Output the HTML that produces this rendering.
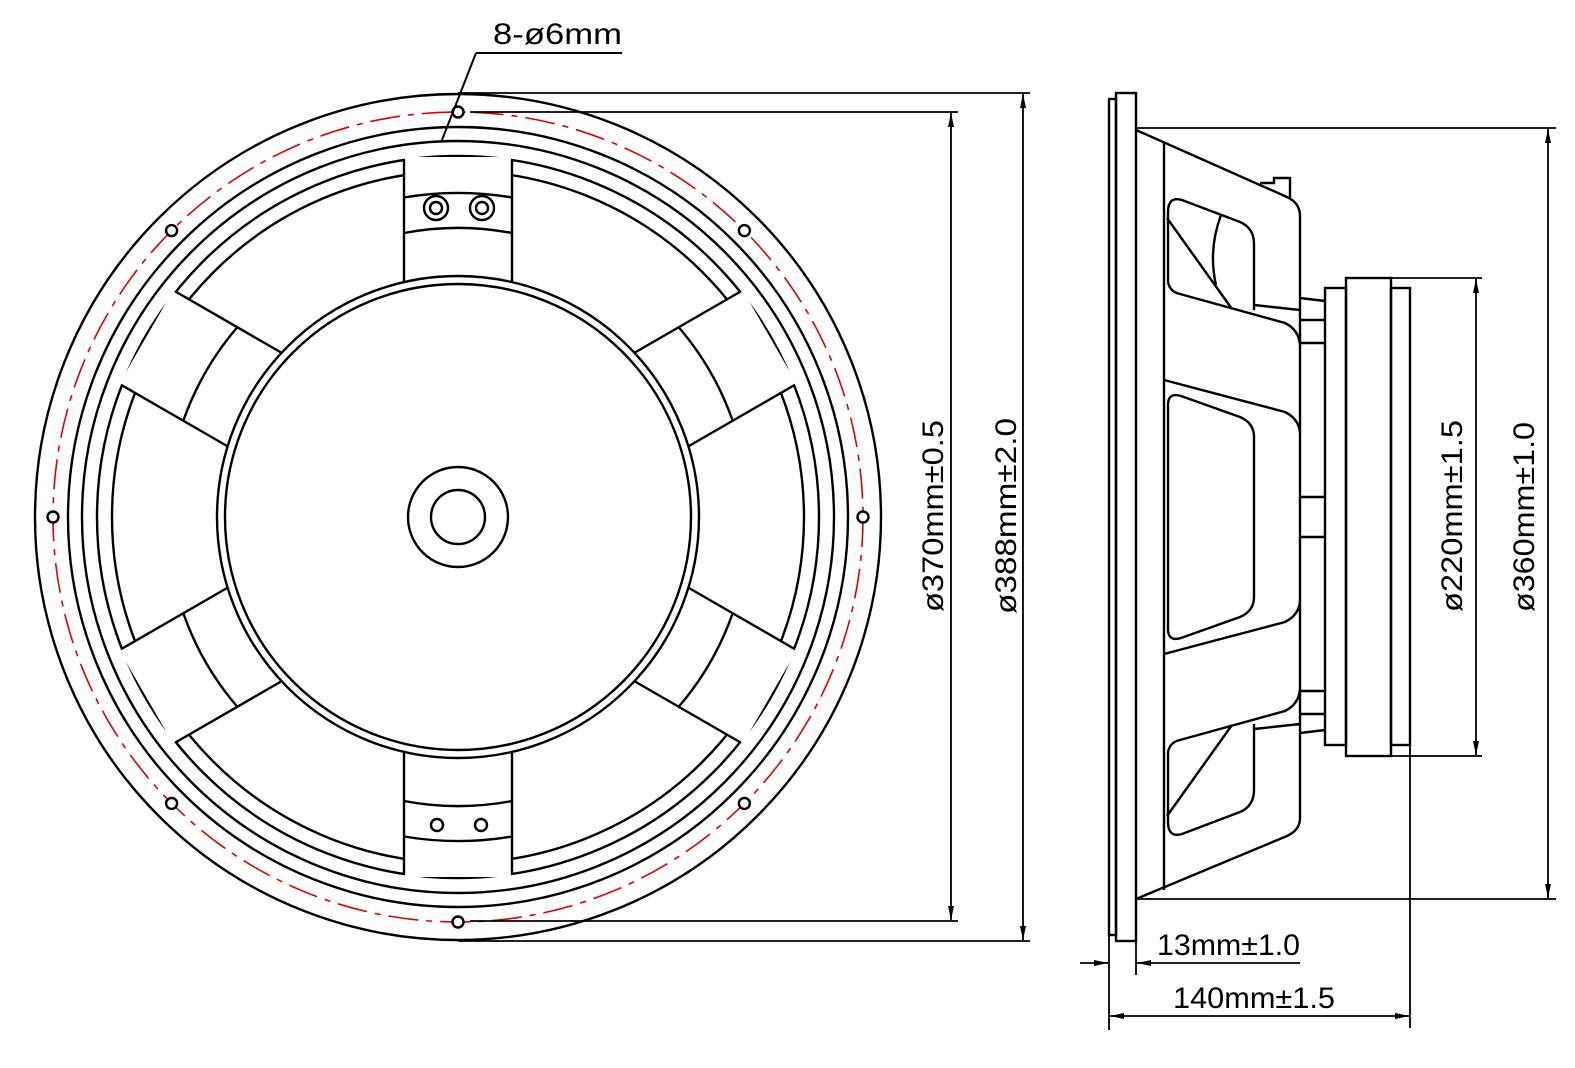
<!DOCTYPE html>
<html><head><meta charset="utf-8"><style>
html,body{margin:0;padding:0;background:#fff;}
svg{display:block;}
text{font-family:"Liberation Sans",sans-serif;font-size:30px;fill:#000;}
</style></head><body>
<svg width="1575" height="1068" viewBox="0 0 1575 1068" xmlns="http://www.w3.org/2000/svg">
<defs>
<marker id="ar" viewBox="0 0 14 6" refX="14" refY="3" markerWidth="14" markerHeight="6" markerUnits="userSpaceOnUse" orient="auto-start-reverse"><path d="M0,0 L14,3 L0,6 Z" fill="#000"/></marker>
<g id="sp" fill="none" stroke="#000" stroke-width="2.4">
<rect x="686" y="464" width="132" height="106" fill="#fff" stroke="none"/>
<line x1="693" y1="463" x2="815" y2="463"/>
<line x1="693" y1="571" x2="815" y2="571"/>
</g>
<g id="ac" fill="none" stroke="#000" stroke-width="2.4"><path d="M744,463 A291,291 0 0 1 744,571"/></g>
<g id="vc" fill="none" stroke="#000" stroke-width="2.4"><path d="M742,463 A289,289 0 0 1 742,571"/><path d="M777.5,463 A324,324 0 0 1 777.5,571"/></g>
</defs>
<g fill="none" stroke="#000" stroke-width="2.4">
<!-- FRONT VIEW -->
<circle cx="458" cy="517" r="423"/>
<circle cx="458" cy="517" r="405" stroke="#e00000" stroke-width="1.6" stroke-dasharray="30 8 6 8"/>
<circle cx="458" cy="517" r="390"/>
<circle cx="458" cy="517" r="376"/>
<circle cx="458" cy="517" r="361"/>
<circle cx="458" cy="517" r="346"/>
<use href="#sp" transform="rotate(-30 458 517)"/>
<use href="#sp" transform="rotate(30 458 517)"/>
<use href="#sp" transform="rotate(150 458 517)"/>
<use href="#sp" transform="rotate(210 458 517)"/>
<use href="#sp" transform="rotate(90 458 517)"/>
<use href="#sp" transform="rotate(-90 458 517)"/>
<use href="#ac" transform="rotate(-30 458 517)"/>
<use href="#ac" transform="rotate(30 458 517)"/>
<use href="#ac" transform="rotate(150 458 517)"/>
<use href="#ac" transform="rotate(210 458 517)"/>
<use href="#vc" transform="rotate(-90 458 517)"/>
<use href="#vc" transform="rotate(90 458 517)"/>
<!-- terminals -->
<circle cx="436" cy="208" r="12"/><circle cx="436" cy="208" r="6"/>
<circle cx="482" cy="208" r="12"/><circle cx="482" cy="208" r="6"/>
<circle cx="437" cy="825" r="6"/><circle cx="481" cy="825" r="6"/>
<!-- magnet -->
<circle cx="458" cy="517" r="241" fill="#fff"/>
<circle cx="458" cy="517" r="233"/>
<circle cx="458" cy="517" r="50"/>
<circle cx="458" cy="517" r="27"/>
<!-- holes -->
<g fill="#fff">
<circle cx="863" cy="517" r="5.5"/><circle cx="744.4" cy="803.4" r="5.5"/><circle cx="458" cy="922" r="5.5"/><circle cx="171.6" cy="803.4" r="5.5"/>
<circle cx="53" cy="517" r="5.5"/><circle cx="171.6" cy="230.6" r="5.5"/><circle cx="458" cy="112" r="5.5"/><circle cx="744.4" cy="230.6" r="5.5"/>
</g>
<!-- leader -->
<line x1="622" y1="53" x2="476" y2="53" stroke-width="2"/>
<line x1="476" y1="53" x2="442" y2="140" stroke-width="2"/>
<!-- front dims -->
<g stroke-width="1.8">
<line x1="458" y1="93" x2="1030" y2="93"/>
<line x1="470" y1="112" x2="958" y2="112"/>
<line x1="470" y1="921" x2="958" y2="921"/>
<line x1="458" y1="941" x2="1030" y2="941"/>
<line x1="951" y1="113" x2="951" y2="920" marker-start="url(#ar)" marker-end="url(#ar)"/>
<line x1="1023" y1="94" x2="1023" y2="940" marker-start="url(#ar)" marker-end="url(#ar)"/>
</g>

<!-- SIDE VIEW -->
<rect x="1109" y="99" width="7" height="836"/>
<rect x="1116" y="93" width="20" height="848"/>
<path d="M1136,130 L1287,197 Q1300,203 1300,216 L1300,818 Q1300,830 1287,836 L1136,899"/>
<line x1="1164" y1="142" x2="1164" y2="890"/>
<path d="M1260,183 L1274,183 L1274,178 L1290,178 L1290,199"/>
<path d="M1168,282 L1168,212 Q1168,196 1182,200 L1240,222 Q1254,228 1254,244 L1254,310"/>
<path d="M1168,282 Q1170,292 1180,294 L1285,323 Q1299,330 1300,345"/>
<line x1="1254" y1="305" x2="1300" y2="310"/>
<line x1="1167" y1="218" x2="1232" y2="309"/>
<path d="M1221,215 Q1208,250 1216,285"/>
<path d="M1164,380 L1285,412 Q1299,419 1300,433"/>
<path d="M1168,405 Q1168,392 1181,396 L1240,417 Q1254,423 1254,437 L1254,597 Q1254,611 1240,617 L1181,638 Q1168,642 1168,629 Z"/>
<path d="M1164,654 L1285,622 Q1299,615 1300,601"/>
<path d="M1168,752 L1168,822 Q1168,838 1182,834 L1240,812 Q1254,806 1254,790 L1254,724"/>
<path d="M1168,752 Q1170,742 1180,740 L1285,711 Q1299,704 1300,689"/>
<line x1="1254" y1="729" x2="1300" y2="724"/>
<line x1="1167" y1="816" x2="1232" y2="725"/>
<line x1="1300" y1="298" x2="1325" y2="301"/>
<line x1="1300" y1="320" x2="1325" y2="320"/>
<line x1="1300" y1="343" x2="1325" y2="343"/>
<line x1="1300" y1="497" x2="1325" y2="497"/>
<line x1="1300" y1="537" x2="1325" y2="537"/>
<line x1="1300" y1="691" x2="1325" y2="691"/>
<line x1="1300" y1="714" x2="1325" y2="714"/>
<line x1="1300" y1="733" x2="1325" y2="730"/>
<rect x="1325" y="288" width="21" height="457"/>
<rect x="1346" y="278" width="45" height="478"/>
<rect x="1391" y="288" width="19" height="457"/>
<g stroke-width="1.8">
<line x1="1136" y1="128" x2="1556" y2="128"/>
<line x1="1136" y1="899" x2="1556" y2="899"/>
<line x1="1548" y1="129" x2="1548" y2="898" marker-start="url(#ar)" marker-end="url(#ar)"/>
<line x1="1391" y1="278" x2="1482" y2="278"/>
<line x1="1391" y1="756" x2="1482" y2="756"/>
<line x1="1476" y1="279" x2="1476" y2="755" marker-start="url(#ar)" marker-end="url(#ar)"/>
<line x1="1109" y1="935" x2="1109" y2="1030"/>
<line x1="1136" y1="941" x2="1136" y2="975"/>
<line x1="1410" y1="745" x2="1410" y2="1028"/>
<line x1="1080" y1="963" x2="1108" y2="963" marker-end="url(#ar)"/>
<line x1="1300" y1="963" x2="1137" y2="963" marker-end="url(#ar)"/>
<line x1="1110" y1="1016" x2="1409" y2="1016" marker-start="url(#ar)" marker-end="url(#ar)"/>
</g>
</g>
<text x="493" y="44" textLength="129" lengthAdjust="spacingAndGlyphs">8-ø6mm</text>
<text transform="translate(943,516) rotate(-90)" text-anchor="middle" textLength="192" lengthAdjust="spacingAndGlyphs">ø370mm±0.5</text>
<text transform="translate(1016,516) rotate(-90)" text-anchor="middle" textLength="196" lengthAdjust="spacingAndGlyphs">ø388mm±2.0</text>
<text transform="translate(1462,516) rotate(-90)" text-anchor="middle" textLength="192" lengthAdjust="spacingAndGlyphs">ø220mm±1.5</text>
<text transform="translate(1534,517) rotate(-90)" text-anchor="middle" textLength="190" lengthAdjust="spacingAndGlyphs">ø360mm±1.0</text>
<text x="1157" y="955" textLength="143" lengthAdjust="spacingAndGlyphs">13mm±1.0</text>
<text x="1173" y="1008" textLength="162" lengthAdjust="spacingAndGlyphs">140mm±1.5</text>
</svg>
</body></html>
